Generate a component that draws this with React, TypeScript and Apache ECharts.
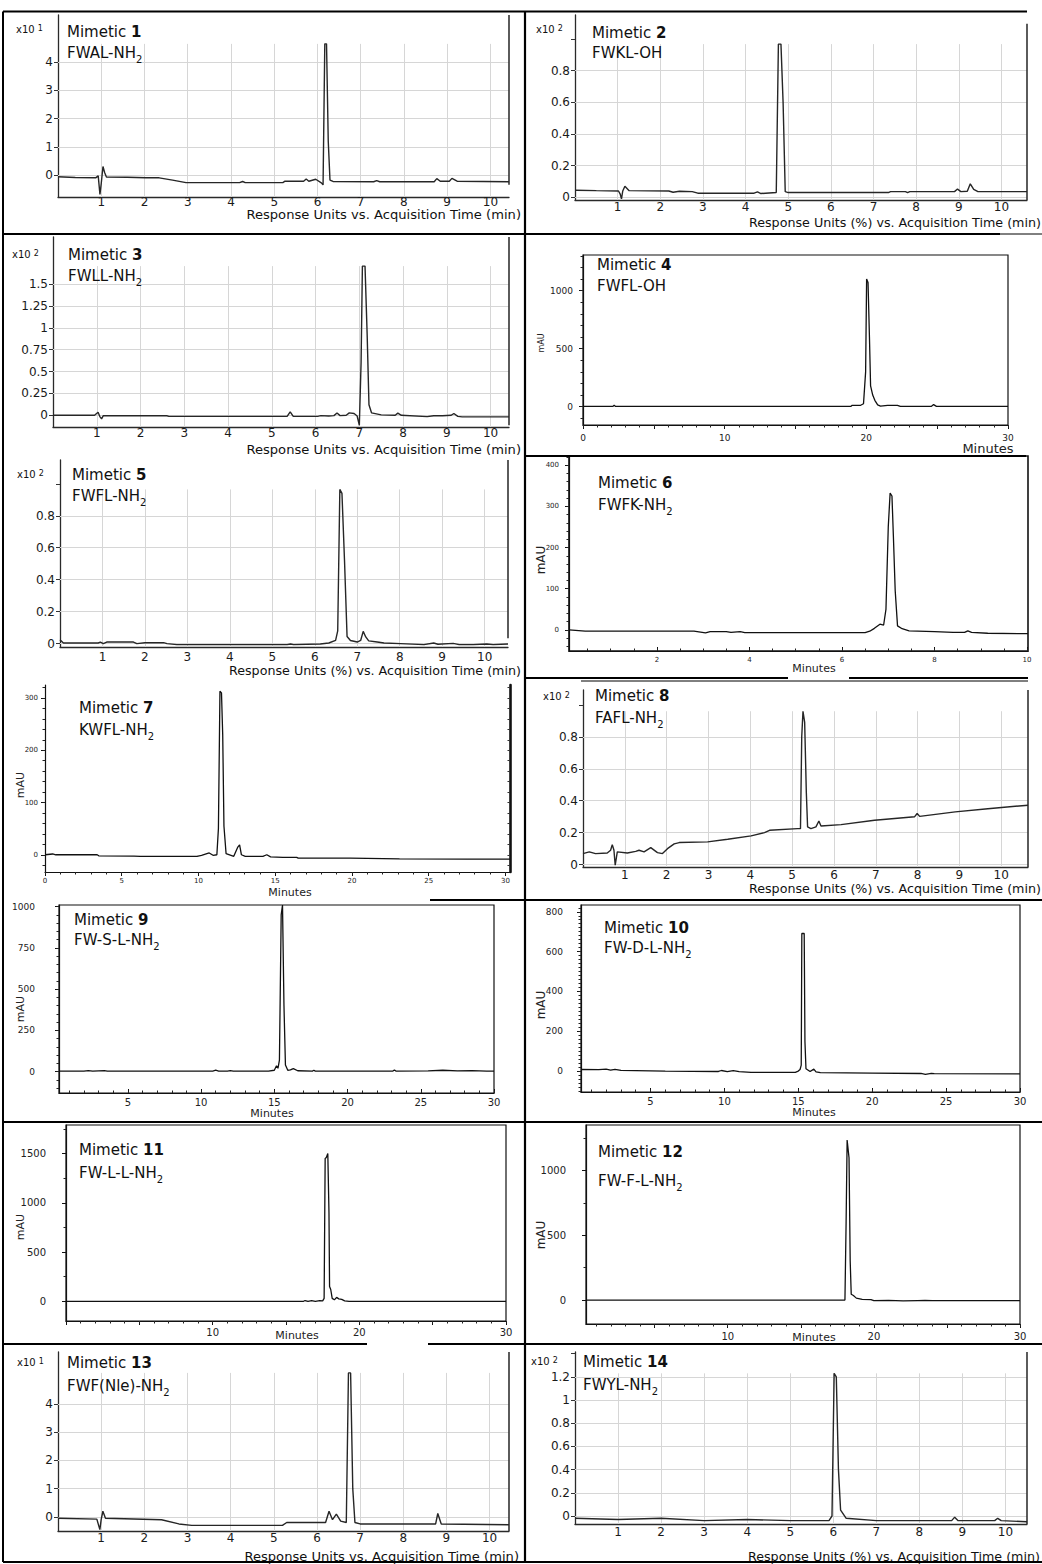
import React, { useEffect, useRef } from "react";
import * as echarts from "echarts";

const FONT = "'DejaVu Sans', Verdana, sans-serif";
const W = 1042;
const H = 1564;

// ---------------- traces: [minutes, response] ----------------
const trace1 = [[0,-0.06],[0.4,-0.09],[0.87,-0.1],[0.93,-0.03],[0.97,-0.69],[1.0,-0.3],[1.04,0.3],[1.08,0.08],[1.12,-0.07],[1.6,-0.08],[2.03,-0.1],[2.34,-0.1],[2.65,-0.18],[2.96,-0.27],[4.2,-0.27],[4.27,-0.23],[4.33,-0.27],[5.2,-0.27],[5.25,-0.22],[5.68,-0.22],[5.74,-0.14],[5.8,-0.22],[5.96,-0.15],[6.09,-0.28],[6.13,-0.35],[6.17,4.65],[6.21,4.65],[6.25,1.2],[6.29,-0.18],[6.36,-0.23],[7.3,-0.24],[7.37,-0.2],[7.44,-0.24],[8.7,-0.24],[8.76,-0.13],[8.84,-0.22],[9.05,-0.22],[9.11,-0.12],[9.23,-0.22],[10.43,-0.24]];
const trace2 = [[0.02,0.045],[0.5,0.042],[1.02,0.04],[1.06,0.02],[1.09,-0.01],[1.12,0.04],[1.17,0.07],[1.27,0.042],[2.2,0.04],[2.3,0.032],[2.45,0.038],[2.75,0.036],[2.88,0.026],[4.2,0.026],[4.28,0.034],[4.36,0.024],[4.72,0.03],[4.77,0.968],[4.83,0.968],[4.88,0.6],[4.93,0.036],[5.0,0.03],[7.35,0.03],[7.4,0.036],[7.75,0.036],[7.8,0.03],[7.85,0.036],[8.9,0.036],[8.97,0.052],[9.05,0.036],[9.2,0.038],[9.27,0.085],[9.35,0.05],[9.45,0.036],[10.6,0.036]];
const trace3 = [[0,0],[0.95,0],[1.03,0.034],[1.07,-0.015],[1.11,-0.04],[1.15,-0.005],[2.6,-0.005],[2.65,-0.012],[5.35,-0.012],[5.42,0.04],[5.49,-0.012],[6.05,-0.012],[6.12,-0.004],[6.3,-0.008],[6.42,-0.004],[6.49,0.027],[6.56,-0.004],[6.7,0.0],[6.77,0.027],[6.88,0.02],[6.95,-0.008],[7.0,-0.115],[7.04,0.6],[7.07,1.706],[7.13,1.706],[7.18,0.9],[7.22,0.12],[7.28,0.027],[7.5,0.005],[7.82,0.0],[7.88,0.025],[7.96,0.0],[8.55,-0.015],[8.7,-0.005],[8.9,-0.005],[9.1,0.0],[9.16,0.02],[9.25,-0.012],[9.35,-0.018],[10.42,-0.018]];
const trace4 = [[0,2],[2.1,2],[2.2,12],[2.3,2],[18.9,2],[19.0,12],[19.6,12],[19.8,25],[19.95,300],[20.02,1100],[20.12,1070],[20.22,600],[20.3,180],[20.45,100],[20.6,55],[20.8,15],[21.0,5],[21.5,12],[22.2,12],[22.4,3],[24.6,3],[24.75,18],[24.95,3],[30,3]];
const trace5 = [[0,0.025],[0.08,0.004],[0.9,0.004],[0.95,0.009],[1.02,0.0],[1.1,0.01],[1.73,0.01],[1.81,0.0],[2.0,0.006],[2.44,0.006],[2.52,0.0],[2.75,-0.006],[5.35,-0.006],[5.43,-0.002],[5.5,-0.006],[6.13,-0.002],[6.33,0.004],[6.49,0.02],[6.54,0.08],[6.59,0.965],[6.64,0.94],[6.7,0.52],[6.76,0.045],[6.84,0.02],[7.0,0.01],[7.08,0.02],[7.14,0.077],[7.2,0.042],[7.27,0.017],[7.47,0.01],[7.63,0.004],[8.02,0.0],[8.57,-0.006],[8.8,0.004],[8.9,-0.004],[9.26,0.002],[9.4,-0.006],[9.73,-0.006],[10.05,-0.002],[10.2,-0.006],[10.55,-0.002]];
const trace6 = [[0.1,0],[0.45,-3],[1.5,-3],[2.8,-3],[3.05,-7],[3.15,-4],[3.5,-4],[3.6,-6],[3.8,-4],[3.9,-6.5],[5.0,-6.5],[6.5,-6.5],[6.6,-3],[6.7,4],[6.82,14],[6.9,12],[6.95,50],[7.0,250],[7.04,332],[7.08,325],[7.11,230],[7.15,95],[7.2,10],[7.3,3],[7.45,-2],[8.0,-4],[8.4,-6],[8.65,-6],[8.72,-2],[8.8,-6],[9.15,-8],[10.02,-9]];
const trace7 = [[0,0],[0.5,1.5],[0.7,0],[3.4,0],[3.5,-2],[5.8,-2.5],[6.2,-3],[9.9,-3],[10.2,-1],[10.7,3.5],[10.95,-1],[11.2,0],[11.3,50],[11.4,313],[11.5,310],[11.58,230],[11.66,55],[11.8,2],[12.3,-3],[12.55,14],[12.68,19],[12.8,0],[13.05,-3],[14.2,-3],[14.45,0],[14.7,-4],[15.5,-5],[16.4,-5],[16.5,-6.5],[19.9,-6.5],[23.1,-7.7],[27.5,-8.3],[30.3,-8.3]];
const trace8 = [[0,0.069],[0.15,0.08],[0.3,0.069],[0.58,0.073],[0.66,0.09],[0.7,0.125],[0.74,0.09],[0.77,-0.004],[0.82,0.08],[1.06,0.073],[1.26,0.083],[1.34,0.09],[1.46,0.08],[1.62,0.106],[1.78,0.075],[1.9,0.069],[2.02,0.1],[2.18,0.13],[2.3,0.138],[2.98,0.142],[3.46,0.159],[4.02,0.18],[4.34,0.2],[4.46,0.215],[5.13,0.225],[5.2,0.225],[5.23,0.8],[5.26,0.96],[5.3,0.89],[5.34,0.45],[5.37,0.236],[5.45,0.225],[5.57,0.236],[5.64,0.273],[5.69,0.242],[6.17,0.25],[6.97,0.278],[7.93,0.3],[7.99,0.32],[8.05,0.302],[8.9,0.33],[9.68,0.35],[10.64,0.372]];
const trace9 = [[0.3,3],[2.0,3],[2.3,6],[2.6,3],[3.4,6],[3.6,3],[10.8,3],[11.0,8],[11.2,3],[11.8,3],[12.0,6],[12.2,3],[14.6,3],[15.0,8],[15.15,35],[15.25,20],[15.35,70],[15.47,950],[15.56,1010],[15.66,400],[15.76,40],[15.92,8],[16.1,10],[16.3,18],[16.6,5],[17.6,3],[17.7,8],[17.8,3],[23.1,3],[23.2,10],[23.3,3],[25.5,4],[26.5,8],[27.5,4],[28.5,6],[29.5,3],[30,3]];
const trace10 = [[0.3,8],[1.5,7],[2.0,10],[2.3,5],[2.6,9],[3.0,4],[6,0],[9.6,-2],[9.8,3],[10.2,-3],[10.6,2],[11.0,-3],[11.8,-6],[14.8,-6],[15.0,0],[15.12,8],[15.2,30],[15.24,691],[15.4,691],[15.45,150],[15.52,12],[15.8,-2],[16.05,10],[16.2,-4],[16.5,-8],[20,-10],[23.3,-12],[23.6,-16],[24.0,-12],[24.2,-13],[30,-14]];
const trace11 = [[0,0],[16.2,0],[16.3,8],[16.5,0],[16.75,6],[17.0,0],[17.3,6],[17.5,4],[17.6,30],[17.67,1450],[17.75,1460],[17.85,1500],[17.93,900],[17.97,150],[18.05,120],[18.15,30],[18.3,15],[18.45,40],[18.6,25],[18.8,20],[19.0,5],[19.3,0],[30,0]];
const trace12 = [[0.3,0],[17.9,0],[18.02,0],[18.1,600],[18.17,1237],[18.3,1100],[18.38,300],[18.45,45],[18.6,35],[18.8,15],[19.2,5],[19.8,3],[20.0,-5],[21.0,-3],[22.0,-6],[23.0,-4],[23.5,-3],[24.0,-4],[30,-4]];
const trace13 = [[0,-0.05],[0.9,-0.08],[0.97,-0.45],[1.0,-0.1],[1.04,0.2],[1.1,-0.05],[2.4,-0.1],[2.8,-0.25],[3.1,-0.3],[5.2,-0.3],[5.3,-0.2],[6.2,-0.2],[6.28,0.2],[6.36,-0.1],[6.45,0.1],[6.55,-0.15],[6.68,-0.2],[6.73,5.1],[6.78,5.1],[6.83,1.0],[6.88,-0.2],[7.0,-0.25],[8.75,-0.25],[8.8,0.12],[8.88,-0.25],[10.45,-0.28]];
const trace14 = [[0,-0.02],[1.0,-0.03],[2.0,-0.02],[3.0,-0.04],[4.0,-0.03],[5.0,-0.04],[5.9,-0.04],[5.97,0.0],[6.02,1.23],[6.07,1.2],[6.12,0.4],[6.17,0.05],[6.3,-0.02],[7.0,-0.04],[8.75,-0.04],[8.82,-0.01],[8.9,-0.04],[9.75,-0.04],[9.82,-0.02],[9.9,-0.04],[10.5,-0.05]];

// ---------------- tick labels ----------------
const minuteTicks = [1, 2, 3, 4, 5, 6, 7, 8, 9, 10];
const yLab1 = [0, 1, 2, 3, 4];
const yLab2 = [0, 0.2, 0.4, 0.6, 0.8];
const yLab3 = [0, 0.25, 0.5, 0.75, 1, 1.25, 1.5];
const yLab14 = [0, 0.2, 0.4, 0.6, 0.8, 1, 1.2];
const xLab4 = [0, 10, 20, 30];
const yLab4 = [0, 500, 1000];
const xLab6 = [2, 4, 6, 8, 10];
const yLab6 = [0, 100, 200, 300, 400];
const xLab7 = [0, 5, 10, 15, 20, 25, 30];
const yLab7 = [0, 100, 200, 300];
const xLab9 = [5, 10, 15, 20, 25, 30];
const yLab9 = [0, 250, 500, 750, 1000];
const yLab10 = [0, 200, 400, 600, 800];
const xLab11 = [10, 20, 30];
const yLab11 = [0, 500, 1000, 1500];
const yLab12 = [0, 500, 1000];

function range(a: number, b: number, s: number) {
  const out: number[] = [];
  for (let v = a; v <= b + 1e-9; v += s) out.push(Math.round(v * 1000) / 1000);
  return out;
}

// ---------------- panel layouts ----------------
const agilent = [
  { data: trace1, l: 58, r: 509, t: 15, b: 197, x0: 0, x1: 10.43, y0: -0.78, y1: 5.674, gTop: 4.65, yLab: yLab1, yExtra: [], rb: -0.35, rt: 5.674, xm: -1 },
  { data: trace2, l: 575, r: 1027, t: 15, b: 200, x0: 0, x1: 10.6, y0: -0.017, y1: 1.152, gTop: 0.968, yLab: yLab2, yExtra: [1], rb: -0.017, rt: 1.097, xm: 1 },
  { data: trace3, l: 53, r: 509, t: 237, b: 427, x0: 0, x1: 10.42, y0: -0.134, y1: 2.039, gTop: 1.706, yLab: yLab3, yExtra: [], rb: -0.115, rt: 2.039, xm: 0 },
  { data: trace5, l: 60, r: 508, t: 460, b: 647, x0: 0, x1: 10.55, y0: -0.021, y1: 1.149, gTop: 0.965, yLab: yLab2, yExtra: [1], rb: 0.033, rt: 1.149, xm: 4 },
  { data: trace8, l: 583, r: 1028, t: 690, b: 867, x0: 0, x1: 10.64, y0: -0.015, y1: 1.093, gTop: 0.96, yLab: yLab2, yExtra: [1], rb: -0.015, rt: 1.093, xm: 2 },
  { data: trace13, l: 58, r: 509, t: 1352, b: 1531, x0: 0, x1: 10.45, y0: -0.5, y1: 5.84, gTop: 5.1, yLab: yLab1, yExtra: [], rb: -0.5, rt: 5.84, xm: 1 },
  { data: trace14, l: 575, r: 1027, t: 1352, b: 1524, x0: 0, x1: 10.5, y0: -0.069, y1: 1.414, gTop: 1.23, yLab: yLab14, yExtra: [1.4], rb: -0.069, rt: 1.414, xm: 2 },
];

const varian = [
  { data: trace4, l: 583, r: 1008, t: 255, b: 425, x0: 0, x1: 30, y0: -158, y1: 1308, box: true, bw: 1.2,
    xMaj: range(0, 30, 5), xLab: xLab4, xMin: range(0, 30, 1), yMaj: yLab4, yLab: yLab4, yMin: range(-100, 1300, 100),
    xf: 9, yf: 9, xm: 8, ym: 10, xIn: false, right: false },
  { data: trace6, l: 569, r: 1028, t: 456, b: 651, x0: 0.1, x1: 10.02, y0: -51, y1: 422, box: true, bw: 1.6,
    xMaj: xLab6, xLab: xLab6, xMin: range(0.5, 10, 0.5), yMaj: yLab6, yLab: yLab6, yMin: range(-40, 420, 20),
    xf: 7, yf: 7, xm: 5, ym: 10, xIn: true, right: false },
  { data: trace7, l: 45, r: 510, t: 685, b: 872, x0: 0, x1: 30.3, y0: -33, y1: 325, box: false, bw: 1,
    xMaj: xLab7, xLab: xLab7, xMin: range(0, 30, 1), yMaj: yLab7, yLab: yLab7, yMin: range(-20, 320, 20),
    xf: 7, yf: 7, xm: 5, ym: 7, xIn: false, right: true },
  { data: trace9, l: 59, r: 494, t: 905, b: 1093, x0: 0.3, x1: 30, y0: -130, y1: 1010, box: true, bw: 1.2,
    xMaj: xLab9, xLab: xLab9, xMin: range(1, 30, 1), yMaj: yLab9, yLab: yLab9, yMin: range(-100, 1000, 50),
    xf: 10, yf: 9, xm: 4, ym: 24, xIn: true, right: false },
  { data: trace10, l: 581, r: 1020, t: 905, b: 1092, x0: 0.3, x1: 30, y0: -105, y1: 834, box: true, bw: 1.2,
    xMaj: xLab9, xLab: xLab9, xMin: range(1, 30, 1), yMaj: yLab10, yLab: yLab10, yMin: range(-100, 820, 20),
    xf: 10, yf: 9, xm: 4, ym: 18, xIn: true, right: false },
  { data: trace11, l: 66, r: 506, t: 1125, b: 1321, x0: 0, x1: 30, y0: -200, y1: 1790, box: true, bw: 1.2,
    xMaj: range(0, 30, 5), xLab: xLab11, xMin: range(1, 30, 1), yMaj: yLab11, yLab: yLab11, yMin: [250, 750, 1250, 1750],
    xf: 10, yf: 10, xm: 6, ym: 20, xIn: false, right: false },
  { data: trace12, l: 586, r: 1020, t: 1125, b: 1324, x0: 0.3, x1: 30, y0: -185, y1: 1353, box: true, bw: 1.2,
    xMaj: range(5, 30, 5), xLab: xLab11, xMin: range(1, 30, 1), yMaj: yLab12, yLab: yLab12, yMin: [250, 750, 1250],
    xf: 10, yf: 10, xm: 7, ym: 20, xIn: false, right: false },
];

const expLabels = [
  { x: 16, y: 30, e: "1" }, { x: 536, y: 30, e: "2" }, { x: 12, y: 255, e: "2" }, { x: 17, y: 475, e: "2" },
  { x: 543, y: 697, e: "2" }, { x: 17, y: 1363, e: "1" }, { x: 531, y: 1362, e: "2" },
];

const mimetics = [
  { x: 67, y: 32, y2: 53, n: "1", f: "FWAL-NH", s: "2" },
  { x: 592, y: 33, y2: 53.5, n: "2", f: "FWKL-OH", s: "" },
  { x: 68, y: 255, y2: 276.5, n: "3", f: "FWLL-NH", s: "2" },
  { x: 597, y: 265, y2: 286, n: "4", f: "FWFL-OH", s: "" },
  { x: 72, y: 475, y2: 496.5, n: "5", f: "FWFL-NH", s: "2" },
  { x: 598, y: 483.5, y2: 505, n: "6", f: "FWFK-NH", s: "2" },
  { x: 79, y: 708.5, y2: 730, n: "7", f: "KWFL-NH", s: "2" },
  { x: 595, y: 696.5, y2: 718, n: "8", f: "FAFL-NH", s: "2" },
  { x: 74, y: 920, y2: 940, n: "9", f: "FW-S-L-NH", s: "2" },
  { x: 604, y: 928, y2: 948.5, n: "10", f: "FW-D-L-NH", s: "2" },
  { x: 79, y: 1150, y2: 1173, n: "11", f: "FW-L-L-NH", s: "2" },
  { x: 598, y: 1152, y2: 1181.5, n: "12", f: "FW-F-L-NH", s: "2" },
  { x: 67, y: 1363, y2: 1386, n: "13", f: "FWF(Nle)-NH", s: "2" },
  { x: 583, y: 1362, y2: 1385, n: "14", f: "FWYL-NH", s: "2" },
];

const TITLE_A = "Response Units vs. Acquisition Time (min)";
const TITLE_B = "Response Units (%) vs. Acquisition Time (min)";
const axisTitles = [
  { r: 521, y: 214, t: TITLE_A, s: 13.1 }, { r: 1041, y: 222, t: TITLE_B, s: 12.7 }, { r: 521, y: 449, t: TITLE_A, s: 13.1 },
  { r: 521, y: 670, t: TITLE_B, s: 12.7 }, { r: 1041, y: 888, t: TITLE_B, s: 12.7 }, { r: 519, y: 1556, t: TITLE_A, s: 13.1 },
  { r: 1040, y: 1556, t: TITLE_B, s: 12.7 },
];

const mauLabels = [
  { x: 541, y: 343, s: 8 }, { x: 541, y: 560, s: 12 }, { x: 20, y: 785, s: 11 }, { x: 20, y: 1009, s: 11 },
  { x: 541, y: 1005, s: 12 }, { x: 20, y: 1227, s: 11 }, { x: 541, y: 1235, s: 12 },
];
const minuteLabels = [
  { x: 988, y: 448, s: 13 }, { x: 814, y: 668, s: 11 }, { x: 290, y: 892, s: 11 }, { x: 272, y: 1113, s: 11 },
  { x: 814, y: 1112, s: 11 }, { x: 297, y: 1335, s: 11 }, { x: 814, y: 1337, s: 11 },
];

const borders = [
  [3, 11.5, 1027, 11.5, 2.2], [3, 234, 1000, 234, 2.2], [1000, 234, 1042, 234, 1], [525, 456, 1026, 456, 2.2],
  [525, 678, 788, 678, 2.2], [849, 678, 1028, 678, 2.2], [581, 681, 1028, 681, 1], [430, 900, 1042, 900, 2.2],
  [3, 1122, 1042, 1122, 2.2], [3, 1344, 367, 1344, 2.2], [428, 1344, 1042, 1344, 2.2], [3, 1562, 1042, 1562, 2.2],
  [3, 11.5, 3, 1562, 2], [525, 11.5, 525, 1562, 2.2],
];

function buildOption() {
  const grid: any[] = [];
  const xAxis: any[] = [];
  const yAxis: any[] = [];
  const series: any[] = [];
  const fmt = (v: number) => String(v);
  const dark = { color: "#2a2a2a", width: 1.3 };

  agilent.forEach((p) => {
    const gi = grid.length;
    grid.push({ left: p.l, top: p.t, width: p.r - p.l, height: p.b - p.t, show: false, containLabel: false });
    const xi = xAxis.length;
    const yi = yAxis.length;
    xAxis.push({
      type: "value", gridIndex: gi, position: "bottom", min: p.x0, max: p.x1,
      axisLine: { show: true, onZero: false, lineStyle: dark },
      axisTick: { show: false }, splitLine: { show: false },
      axisLabel: { show: true, customValues: minuteTicks, formatter: fmt, fontFamily: FONT, fontSize: 12, color: "#1a1a1a", margin: p.xm },
    });
    yAxis.push({
      type: "value", gridIndex: gi, position: "left", min: p.y0, max: p.y1,
      axisLine: { show: true, onZero: false, lineStyle: dark },
      axisTick: { show: true, customValues: p.yLab.concat(p.yExtra), length: 4, lineStyle: { color: "#333", width: 1 } },
      splitLine: { show: false },
      axisLabel: { show: true, customValues: p.yLab, formatter: fmt, fontFamily: FONT, fontSize: 12, color: "#1a1a1a", margin: 5 },
    });
    const segs: any[] = [
      ...minuteTicks.map((v) => [{ coord: [v, p.y0] }, { coord: [v, p.gTop] }]),
      ...p.yLab.map((v) => [{ coord: [p.x0, v] }, { coord: [p.x1, v] }]),
      [{ coord: [p.x1, p.rb], lineStyle: { color: "#333", width: 1.6 } }, { coord: [p.x1, p.rt] }],
    ];
    series.push({
      type: "line", xAxisIndex: xi, yAxisIndex: yi, data: p.data, z: 3, symbol: "none", showSymbol: false, silent: true,
      lineStyle: { color: "#262626", width: 1.4 },
      markLine: {
        z: 1, silent: true, symbol: ["none", "none"], label: { show: false }, animation: false,
        emphasis: { disabled: true }, lineStyle: { color: "#d6d6d6", width: 1, type: "solid" }, data: segs,
      },
    });
  });

  varian.forEach((p) => {
    const gi = grid.length;
    grid.push({ left: p.l, top: p.t, width: p.r - p.l, height: p.b - p.t, show: p.box, borderColor: "#111", borderWidth: p.bw, containLabel: false });
    const xi = xAxis.length;
    const yi = yAxis.length;
    const line = { color: "#111", width: 1.2 };
    xAxis.push({
      type: "value", gridIndex: gi, position: "bottom", min: p.x0, max: p.x1,
      axisLine: { show: true, onZero: false, lineStyle: line },
      axisTick: { show: true, customValues: p.xMaj, length: 4, inside: p.xIn, lineStyle: { color: "#111" } },
      splitLine: { show: false },
      axisLabel: { show: true, customValues: p.xLab, formatter: fmt, fontFamily: FONT, fontSize: p.xf, color: "#222", margin: p.xm },
    });
    xAxis.push({
      type: "value", gridIndex: gi, position: "bottom", min: p.x0, max: p.x1,
      axisLine: { show: false, onZero: false }, splitLine: { show: false }, axisLabel: { show: false },
      axisTick: { show: true, customValues: p.xMin, length: 2.5, inside: p.xIn, lineStyle: { color: "#222" } },
    });
    yAxis.push({
      type: "value", gridIndex: gi, position: "left", min: p.y0, max: p.y1,
      axisLine: { show: true, onZero: false, lineStyle: line },
      axisTick: { show: true, customValues: p.yMaj, length: 4, lineStyle: { color: "#111" } },
      splitLine: { show: false },
      axisLabel: { show: true, customValues: p.yLab, formatter: fmt, fontFamily: FONT, fontSize: p.yf, color: "#222", margin: p.ym },
    });
    yAxis.push({
      type: "value", gridIndex: gi, position: "left", min: p.y0, max: p.y1,
      axisLine: { show: false, onZero: false }, splitLine: { show: false }, axisLabel: { show: false },
      axisTick: { show: true, customValues: p.yMin, length: 2.5, lineStyle: { color: "#222" } },
    });
    if (p.right) {
      yAxis.push({
        type: "value", gridIndex: gi, position: "right", min: p.y0, max: p.y1,
        axisLine: { show: true, onZero: false, lineStyle: { color: "#111", width: 2.6 } },
        splitLine: { show: false }, axisLabel: { show: false },
        axisTick: { show: true, inside: true, customValues: p.yMin, length: 2.5, lineStyle: { color: "#333" } },
      });
    }
    series.push({
      type: "line", xAxisIndex: xi, yAxisIndex: yi, data: p.data, z: 3, symbol: "none", showSymbol: false, silent: true,
      lineStyle: { color: "#111", width: 1.3 },
    });
  });

  const graphic: any[] = [];
  const txt = (extra: any) => ({ fontFamily: FONT, fill: "#111", ...extra });

  expLabels.forEach((e) => {
    graphic.push({
      type: "text", x: e.x, y: e.y - 6, silent: true, z: 10,
      style: {
        text: `{a|x10 }{e|${e.e}}`,
        rich: { a: txt({ fontSize: 10, lineHeight: 12, verticalAlign: "top" }), e: txt({ fontSize: 8, lineHeight: 8, verticalAlign: "top" }) },
        align: "left", verticalAlign: "top", textAlign: "left", textVerticalAlign: "top",
      },
    });
  });

  mimetics.forEach((m) => {
    graphic.push({
      type: "text", x: m.x, y: m.y - 8, silent: true, z: 10,
      style: {
        text: `{a|Mimetic }{b|${m.n}}`,
        rich: { a: txt({ fontSize: 15, lineHeight: 18, verticalAlign: "top" }), b: txt({ fontSize: 15, lineHeight: 18, fontWeight: "bold", verticalAlign: "top" }) },
        align: "left", verticalAlign: "top", textAlign: "left", textVerticalAlign: "top",
      },
    });
    graphic.push({
      type: "text", x: m.x, y: m.y2 - 8, silent: true, z: 10,
      style: {
        text: m.s ? `{a|${m.f}}{s|${m.s}}` : `{a|${m.f}}`,
        rich: { a: txt({ fontSize: 15, lineHeight: 18, verticalAlign: "top" }), s: txt({ fontSize: 10, lineHeight: 10, padding: [9, 0, 0, 0], verticalAlign: "top" }) },
        align: "left", verticalAlign: "top", textAlign: "left", textVerticalAlign: "top",
      },
    });
  });

  axisTitles.forEach((a) => {
    graphic.push({
      type: "text", x: a.r, y: a.y, silent: true, z: 10,
      style: txt({ text: a.t, fontSize: a.s, align: "right", verticalAlign: "middle", textAlign: "right", textVerticalAlign: "middle" }),
    });
  });

  mauLabels.forEach((a) => {
    graphic.push({
      type: "text", x: a.x, y: a.y, rotation: Math.PI / 2, silent: true, z: 10,
      style: txt({ text: "mAU", fontSize: a.s, fill: "#222", align: "center", verticalAlign: "middle", textAlign: "center", textVerticalAlign: "middle" }),
    });
  });

  minuteLabels.forEach((a) => {
    graphic.push({
      type: "text", x: a.x, y: a.y, silent: true, z: 10,
      style: txt({ text: "Minutes", fontSize: a.s, fill: "#222", align: "center", verticalAlign: "middle", textAlign: "center", textVerticalAlign: "middle" }),
    });
  });

  borders.forEach((b) => {
    graphic.push({
      type: "line", silent: true, z: 20,
      shape: { x1: b[0], y1: b[1], x2: b[2], y2: b[3] },
      style: { stroke: "#000", lineWidth: b[4] },
    });
  });

  return { animation: false, backgroundColor: "#fff", grid, xAxis, yAxis, series, graphic };
}

export default function App() {
  const ref = useRef<HTMLDivElement>(null);
  useEffect(() => {
    if (!ref.current) return;
    const chart = echarts.init(ref.current, null, { renderer: "svg" });
    chart.setOption(buildOption() as any);
    return () => chart.dispose();
  }, []);
  return <div ref={ref} style={{ position: "absolute", left: 0, top: 0, width: W, height: H, background: "#fff" }} />;
}
